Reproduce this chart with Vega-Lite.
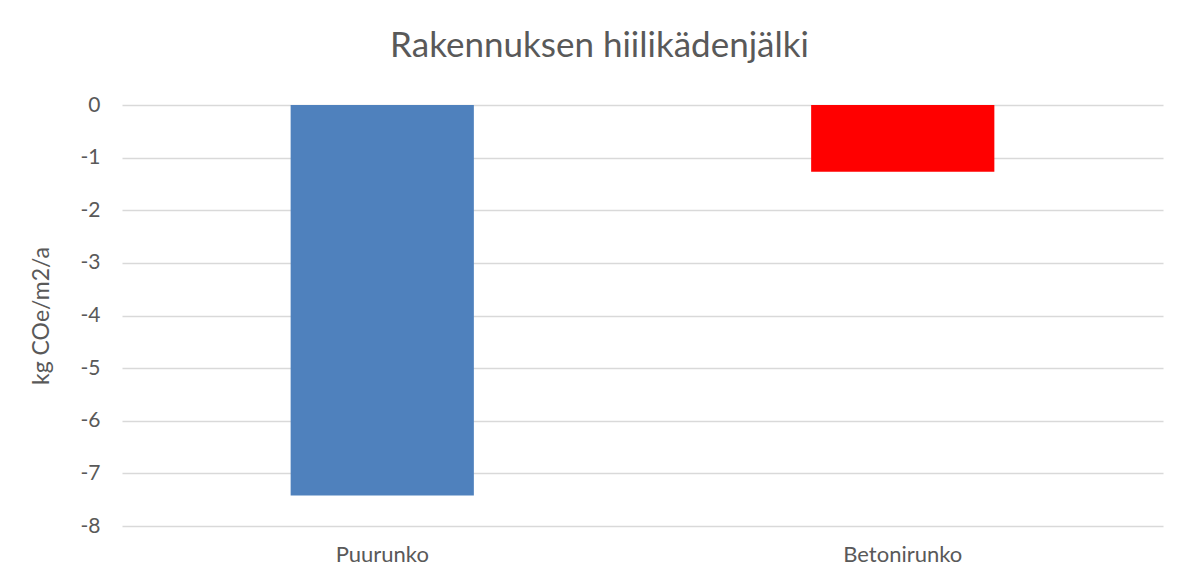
{
  "$schema": "https://vega.github.io/schema/vega-lite/v6.json",
  "autosize": {"type": "none"},
  "width": 1041,
  "height": 421,
  "padding": {"left": 122, "top": 105, "right": 33, "bottom": 62},
  "background": "white",
  "title": {
    "text": "Rakennuksen hiilikädenjälki",
    "font": "Lato",
    "fontSize": 35,
    "fontWeight": "normal",
    "color": "#595959",
    "anchor": "middle",
    "dx": -43,
    "offset": 30
  },
  "data": {
    "values": [
      {"runko": "Puurunko", "arvo": -7.42},
      {"runko": "Betonirunko", "arvo": -1.27}
    ]
  },
  "mark": {"type": "bar"},
  "encoding": {
    "x": {
      "field": "runko",
      "type": "nominal",
      "sort": null,
      "scale": {"paddingInner": 0.648, "paddingOuter": 0.324},
      "axis": {
        "title": null,
        "labelAngle": 0,
        "labelFont": "Lato",
        "labelFontSize": 22,
        "labelColor": "#595959",
        "labelPadding": 18,
        "ticks": false,
        "domain": false,
        "grid": false
      }
    },
    "y": {
      "field": "arvo",
      "type": "quantitative",
      "scale": {"domain": [-8, 0], "nice": false, "zero": true},
      "axis": {
        "title": "kg COe/m2/a",
        "titleFont": "Lato",
        "titleFontSize": 23,
        "titleFontWeight": "normal",
        "titleColor": "#595959",
        "titlePadding": 27,
        "values": [0, -1, -2, -3, -4, -5, -6, -7, -8],
        "labelExpr": "'' + datum.value",
        "labelFont": "Lato",
        "labelFontSize": 21,
        "labelColor": "#595959",
        "labelPadding": 22,
        "ticks": false,
        "domain": false,
        "grid": true,
        "gridColor": "#d9d9d9",
        "gridWidth": 1.5
      }
    },
    "color": {
      "field": "runko",
      "type": "nominal",
      "scale": {"domain": ["Puurunko", "Betonirunko"], "range": ["#4F81BD", "#FF0000"]},
      "legend": null
    }
  },
  "config": {"view": {"stroke": null}}
}
